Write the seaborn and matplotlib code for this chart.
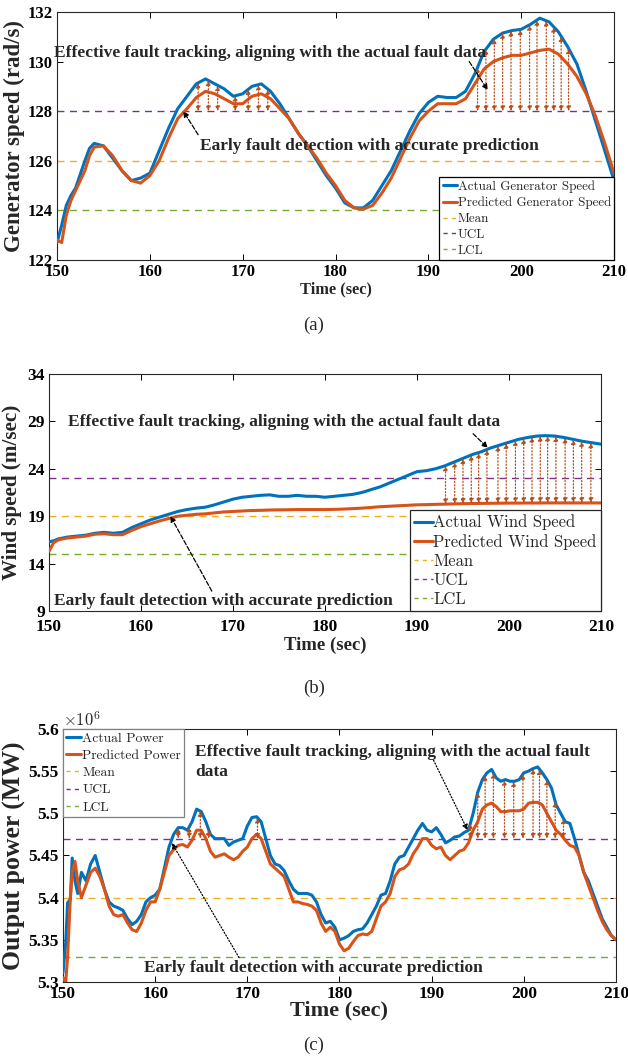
import numpy as np
import pandas as pd
import matplotlib
matplotlib.use("Agg")
import matplotlib.pyplot as plt
import seaborn as sns
from matplotlib.lines import Line2D
from matplotlib.ticker import FuncFormatter

# ---------------- data ----------------
gen_time = [150, 150.5, 151, 151.5, 152, 153, 153.5, 154, 155, 156, 157, 158, 159, 160,
            161, 162, 163, 164, 165, 166, 167, 168, 169, 170, 171, 172, 173, 174, 175,
            176, 177, 178, 179, 180, 181, 182, 183, 184, 185, 186, 187, 188, 189, 190,
            191, 192, 193, 194, 195, 196, 197, 198, 199, 200, 201, 202, 203, 204, 205,
            206, 207, 208, 209, 210]
gen_actual = [122.7, 123.4, 124.2, 124.6, 124.9, 126.0, 126.5, 126.7, 126.6, 126.1, 125.6,
              125.2, 125.3, 125.5, 126.4, 127.3, 128.1, 128.6, 129.1, 129.3, 129.1, 128.9,
              128.6, 128.7, 129.0, 129.1, 128.8, 128.3, 127.7, 127.1, 126.6, 126.0, 125.4,
              124.9, 124.3, 124.1, 124.1, 124.4, 125.0, 125.6, 126.4, 127.2, 127.9, 128.35,
              128.6, 128.55, 128.55, 128.8, 129.5, 130.4, 130.9, 131.15, 131.25, 131.3,
              131.5, 131.75, 131.6, 131.2, 130.6, 129.9, 128.8, 127.6, 126.4, 125.2]
gen_pred = [122.8, 122.7, 123.8, 124.4, 124.8, 125.6, 126.2, 126.55, 126.6, 126.2, 125.6,
            125.2, 125.1, 125.4, 126.0, 126.9, 127.7, 128.1, 128.55, 128.8, 128.7, 128.5,
            128.3, 128.3, 128.6, 128.7, 128.5, 128.1, 127.7, 127.1, 126.6, 126.1, 125.5,
            125.0, 124.4, 124.1, 124.05, 124.2, 124.7, 125.3, 126.1, 126.9, 127.6, 128.0,
            128.3, 128.3, 128.3, 128.5, 129.1, 129.7, 130.0, 130.15, 130.25, 130.25,
            130.35, 130.45, 130.5, 130.3, 129.9, 129.4, 128.7, 127.8, 126.7, 125.5]
gen_mean, gen_ucl, gen_lcl = 126, 128, 124
gen_arrow_t = [165.2, 166.3, 167.3, 169.2, 170.6, 171.7, 172.7,
               195.3, 196.2, 197.1, 198.0, 198.9, 199.9, 200.9, 201.7, 202.7, 203.5, 204.3, 205.1]

wind_time = [150, 150.5] + list(range(151, 211))
wind_actual = [16.3, 16.4, 16.6, 16.8, 16.9, 17.0, 17.2, 17.3, 17.2, 17.3, 17.8, 18.2, 18.6,
               18.9, 19.2, 19.5, 19.7, 19.85, 19.95, 20.2, 20.5, 20.8, 21.0, 21.1, 21.2,
               21.25, 21.1, 21.1, 21.2, 21.1, 21.1, 21.0, 21.1, 21.2, 21.3, 21.5, 21.8,
               22.1, 22.5, 22.9, 23.3, 23.7, 23.8, 24.0, 24.3, 24.7, 25.1, 25.5, 25.8,
               26.2, 26.5, 26.8, 27.1, 27.3, 27.45, 27.5, 27.45, 27.3, 27.1, 26.9, 26.75, 26.6]
wind_pred = [15.3, 16.2, 16.5, 16.7, 16.8, 16.9, 17.1, 17.15, 17.05, 17.05, 17.5, 17.9, 18.2,
             18.5, 18.75, 19.0, 19.1, 19.2, 19.25, 19.35, 19.45, 19.5, 19.55, 19.6, 19.62,
             19.65, 19.67, 19.68, 19.7, 19.7, 19.7, 19.7, 19.72, 19.75, 19.8, 19.85, 19.92,
             20.0, 20.05, 20.1, 20.15, 20.2, 20.22, 20.25, 20.27, 20.3, 20.32, 20.34, 20.35,
             20.36, 20.37, 20.38, 20.38, 20.39, 20.39, 20.4, 20.4, 20.4, 20.4, 20.4, 20.4, 20.4]
wind_mean, wind_ucl, wind_lcl = 19, 23, 15
wind_arrow_t = [193.1, 194.1, 195.0, 195.9, 196.7, 197.6, 198.8, 199.7, 200.7, 201.6,
                202.5, 203.4, 204.2, 205.1, 206.1, 207.0, 207.9, 208.9]

pow_time = [150.0, 150.3, 150.5, 150.8, 151.0, 151.3, 151.6] + [152.0 + 0.5 * i for i in range(117)]
pow_actual = [5.311, 5.347, 5.394, 5.398, 5.447, 5.42, 5.405,
              5.43, 5.42, 5.44, 5.45, 5.43, 5.41, 5.395, 5.39, 5.388, 5.385, 5.375, 5.368,
              5.372, 5.38, 5.395, 5.40, 5.403, 5.41, 5.435, 5.46, 5.475, 5.483, 5.483, 5.48,
              5.49, 5.505, 5.502, 5.49, 5.475, 5.47, 5.47, 5.47, 5.462, 5.466, 5.468, 5.47,
              5.485, 5.495, 5.496, 5.49, 5.47, 5.45, 5.44, 5.438, 5.432, 5.42, 5.41, 5.405,
              5.405, 5.405, 5.403, 5.395, 5.38, 5.37, 5.372, 5.365, 5.35, 5.352, 5.355, 5.36,
              5.362, 5.363, 5.37, 5.38, 5.39, 5.403, 5.405, 5.42, 5.44, 5.448, 5.45, 5.46,
              5.47, 5.48, 5.488, 5.48, 5.478, 5.483, 5.475, 5.465, 5.468, 5.472, 5.473, 5.477,
              5.48, 5.50, 5.525, 5.54, 5.548, 5.552, 5.542, 5.538, 5.54, 5.538, 5.538, 5.54,
              5.548, 5.55, 5.553, 5.555, 5.548, 5.54, 5.53, 5.51, 5.50, 5.49, 5.488, 5.47,
              5.45, 5.43, 5.42, 5.405, 5.39, 5.375, 5.365, 5.355, 5.35]
pow_pred = [5.305, 5.30, 5.33, 5.40, 5.43, 5.443, 5.42,
            5.40, 5.415, 5.43, 5.435, 5.425, 5.41, 5.39, 5.38, 5.378, 5.38, 5.37, 5.362,
            5.36, 5.37, 5.385, 5.395, 5.395, 5.41, 5.43, 5.45, 5.457, 5.462, 5.463, 5.46,
            5.468, 5.48, 5.48, 5.47, 5.455, 5.448, 5.45, 5.452, 5.448, 5.445, 5.448, 5.455,
            5.46, 5.47, 5.475, 5.47, 5.455, 5.44, 5.435, 5.43, 5.425, 5.41, 5.395, 5.395,
            5.393, 5.392, 5.39, 5.385, 5.37, 5.36, 5.365, 5.36, 5.345, 5.337, 5.34, 5.348,
            5.355, 5.357, 5.356, 5.36, 5.375, 5.39, 5.395, 5.405, 5.425, 5.433, 5.435, 5.44,
            5.452, 5.46, 5.47, 5.47, 5.462, 5.458, 5.46, 5.45, 5.445, 5.45, 5.455, 5.457,
            5.465, 5.48, 5.49, 5.505, 5.51, 5.512, 5.508, 5.502, 5.502, 5.503, 5.503, 5.503,
            5.505, 5.512, 5.513, 5.513, 5.51, 5.50, 5.49, 5.48, 5.475, 5.468, 5.462, 5.46,
            5.45, 5.43, 5.415, 5.40, 5.385, 5.372, 5.362, 5.355, 5.35]
pow_mean, pow_ucl, pow_lcl = 5.40, 5.47, 5.33
pow_arrow_t = [162.5, 163.7, 164.9, 165.8, 171.1, 194.2, 195.0, 195.8, 196.7, 197.9, 198.9,
               199.9, 201.0, 201.7, 202.5, 203.4, 204.3]
POW_SCALE = 1e6

# ---------------- style ----------------
sns.set_theme(style="ticks")
plt.rcParams['font.family'] = ['Liberation Serif', 'DejaVu Serif']
plt.rcParams['mathtext.fontset'] = 'cm'

C_ACT = '#0072BD'
C_PRED = '#D95319'
C_MEAN = '#EDB120'
C_UCL = '#7E2F8E'
C_LCL = '#77AC30'
C_ARR = '#B84D1C'
LEG_FONT = ['cmr10', 'Liberation Serif']
NOTE_FS = 12.5

fig = plt.figure(figsize=(6.28, 10.58), dpi=100)
ax_a = fig.add_axes([0.0908, 0.7543, 0.8870, 0.2344])
ax_b = fig.add_axes([0.0780, 0.4225, 0.8790, 0.2240])
ax_c = fig.add_axes([0.1003, 0.0718, 0.8806, 0.2392])


def style_axes(ax, tick_size, xpad=3):
    ax.tick_params(direction='in', top=True, right=True, length=4, width=0.7,
                   labelsize=tick_size, pad=3, colors='black')
    ax.tick_params(axis='x', pad=xpad)
    for lab in ax.get_xticklabels() + ax.get_yticklabels():
        lab.set_fontweight('bold')
    for s in ax.spines.values():
        s.set_linewidth(0.8)
        s.set_color('#262626')


def draw_panel(ax, t, act, pred, mean, ucl, lcl, scale=1.0):
    t = np.asarray(t, float)
    a = np.asarray(act, float) * scale
    p = np.asarray(pred, float) * scale
    df = pd.DataFrame({'t': t, 'a': a, 'p': p})
    sns.lineplot(data=df, x='t', y='a', ax=ax, color=C_ACT, lw=2.2, legend=False, zorder=3)
    sns.lineplot(data=df, x='t', y='p', ax=ax, color=C_PRED, lw=2.2, legend=False, zorder=3)
    ax.axhline(mean * scale, color=C_MEAN, ls=(0, (5, 4)), lw=1.0, zorder=2)
    ax.axhline(ucl * scale, color=C_UCL, ls=(0, (5, 4)), lw=1.0, zorder=2)
    ax.axhline(lcl * scale, color=C_LCL, ls=(0, (5, 4)), lw=1.0, zorder=2)
    return t, a, p


def double_arrow(ax, x, y0, y1):
    ax.annotate('', xy=(x, y1), xytext=(x, y0),
                arrowprops=dict(arrowstyle='<|-|>', color=C_ARR, lw=0.9, ls=':',
                                mutation_scale=7, shrinkA=0, shrinkB=0), zorder=4)


def arrow(ax, start, end, ls):
    ax.annotate('', xy=end, xytext=start,
                arrowprops=dict(arrowstyle='-|>', color='black', lw=0.9, ls=ls,
                                mutation_scale=8, shrinkA=0, shrinkB=0), zorder=5)


def legend(ax, labels, loc, fs, edge, spacing):
    handles = [Line2D([], [], color=C_ACT, lw=2.2), Line2D([], [], color=C_PRED, lw=2.2),
               Line2D([], [], color=C_MEAN, ls=(0, (3, 3)), lw=1.0),
               Line2D([], [], color=C_UCL, ls=(0, (3, 3)), lw=1.0),
               Line2D([], [], color=C_LCL, ls=(0, (3, 3)), lw=1.0)]
    leg = ax.legend(handles, labels, loc=loc, fancybox=False, framealpha=1,
                    edgecolor=edge, borderaxespad=0, handlelength=1.1, handletextpad=0.05,
                    labelspacing=spacing, borderpad=0.25,
                    prop={'family': LEG_FONT, 'size': fs})
    leg.get_frame().set_linewidth(0.9)
    leg.set_zorder(6)


def bold_text(ax, x, y, s, fs, ha='center', va='center', **kw):
    ax.text(x, y, s, ha=ha, va=va, fontsize=fs, fontweight='bold', zorder=5, **kw)


# ---------------- panel (a) ----------------
t, a, p = draw_panel(ax_a, gen_time, gen_actual, gen_pred, gen_mean, gen_ucl, gen_lcl)
for x in gen_arrow_t:
    double_arrow(ax_a, x, gen_ucl, np.interp(x, t, a))
ax_a.set_xlim(150, 210)
ax_a.set_ylim(122, 132)
ax_a.set_xticks(range(150, 211, 10))
ax_a.set_yticks(range(122, 133, 2))
ax_a.set_xlabel('Time (sec)', fontsize=11.8, fontweight='bold', labelpad=1)
ax_a.set_ylabel('Generator speed (rad/s)', fontsize=16.5, fontweight='bold', labelpad=2)
bold_text(ax_a, 172.9, 130.35, 'Effective fault tracking, aligning with the actual fault data', NOTE_FS)
arrow(ax_a, (194.4, 130.0), (196.4, 128.85), '--')
bold_text(ax_a, 183.6, 126.6, 'Early fault detection with accurate prediction', NOTE_FS)
arrow(ax_a, (165.2, 127.05), (163.6, 128.0), '--')
legend(ax_a, ['Actual Generator Speed', 'Predicted Generator Speed', 'Mean', 'UCL', 'LCL'],
       'lower right', 9.4, 'black', 0.28)
style_axes(ax_a, 12)

# ---------------- panel (b) ----------------
t, a, p = draw_panel(ax_b, wind_time, wind_actual, wind_pred, wind_mean, wind_ucl, wind_lcl)
for x in wind_arrow_t:
    double_arrow(ax_b, x, np.interp(x, t, p), np.interp(x, t, a))
ax_b.set_xlim(150, 210)
ax_b.set_ylim(9, 34)
ax_b.set_xticks(range(150, 211, 10))
ax_b.set_yticks(range(9, 35, 5))
ax_b.set_xlabel('Time (sec)', fontsize=13.5, fontweight='bold', labelpad=1)
ax_b.set_ylabel('Wind speed (m/sec)', fontsize=15.2, fontweight='bold', labelpad=4)
bold_text(ax_b, 175.5, 28.9, 'Effective fault tracking, aligning with the actual fault data', NOTE_FS)
arrow(ax_b, (196.1, 27.7), (197.7, 26.2), '--')
bold_text(ax_b, 169.0, 10.1, 'Early fault detection with accurate prediction', NOTE_FS)
arrow(ax_b, (167.7, 11.1), (163.2, 19.0), '--')
legend(ax_b, ['Actual Wind Speed', 'Predicted Wind Speed', 'Mean', 'UCL', 'LCL'],
       'lower right', 12, '#262626', 0.22)
style_axes(ax_b, 12.5, xpad=6)

# ---------------- panel (c) ----------------
t, a, p = draw_panel(ax_c, pow_time, pow_actual, pow_pred, pow_mean, pow_ucl, pow_lcl,
                     scale=POW_SCALE)
for x in pow_arrow_t:
    double_arrow(ax_c, x, pow_ucl * POW_SCALE, np.interp(x, t, a))
ax_c.set_xlim(150, 210)
ax_c.set_ylim(5.3 * POW_SCALE, 5.6 * POW_SCALE)
ax_c.set_xticks(range(150, 211, 10))
ax_c.set_yticks(np.arange(5.30, 5.601, 0.05) * POW_SCALE)
ax_c.yaxis.set_major_formatter(FuncFormatter(lambda v, pos: '%g' % round(v / POW_SCALE, 2)))
ax_c.text(0.0, 0.995, r'$\times10^6$', transform=ax_c.transAxes, ha='left', va='bottom',
          fontsize=12)
ax_c.set_xlabel('Time (sec)', fontsize=16, fontweight='bold', labelpad=-1)
ax_c.set_ylabel('Output power (MW)', fontsize=18.5, fontweight='bold', labelpad=2)
bold_text(ax_c, 164.3, 5.582 * POW_SCALE,
          'Effective fault tracking, aligning with the actual fault\ndata', NOTE_FS,
          ha='left', va='top', linespacing=1.35)
arrow(ax_c, (190.2, 5.563 * POW_SCALE), (193.9, 5.480 * POW_SCALE), (0, (1, 1.5)))
bold_text(ax_c, 177.2, 5.317 * POW_SCALE, 'Early fault detection with accurate prediction', NOTE_FS)
arrow(ax_c, (169.1, 5.329 * POW_SCALE), (161.8, 5.465 * POW_SCALE), (0, (1, 1.5)))
legend(ax_c, ['Actual Power', 'Predicted Power', 'Mean', 'UCL', 'LCL'],
       'upper left', 9.8, '#808080', 0.34)
style_axes(ax_c, 12.5)

# captions
fig.text(0.5, 1 - 325 / 1058, '(a)', ha='center', va='center', fontsize=13.5)
fig.text(0.5, 1 - 688 / 1058, '(b)', ha='center', va='center', fontsize=13.5)
fig.text(0.5, 1 - 1045 / 1058, '(c)', ha='center', va='center', fontsize=13.5)

fig.savefig('out.png', dpi=100)
